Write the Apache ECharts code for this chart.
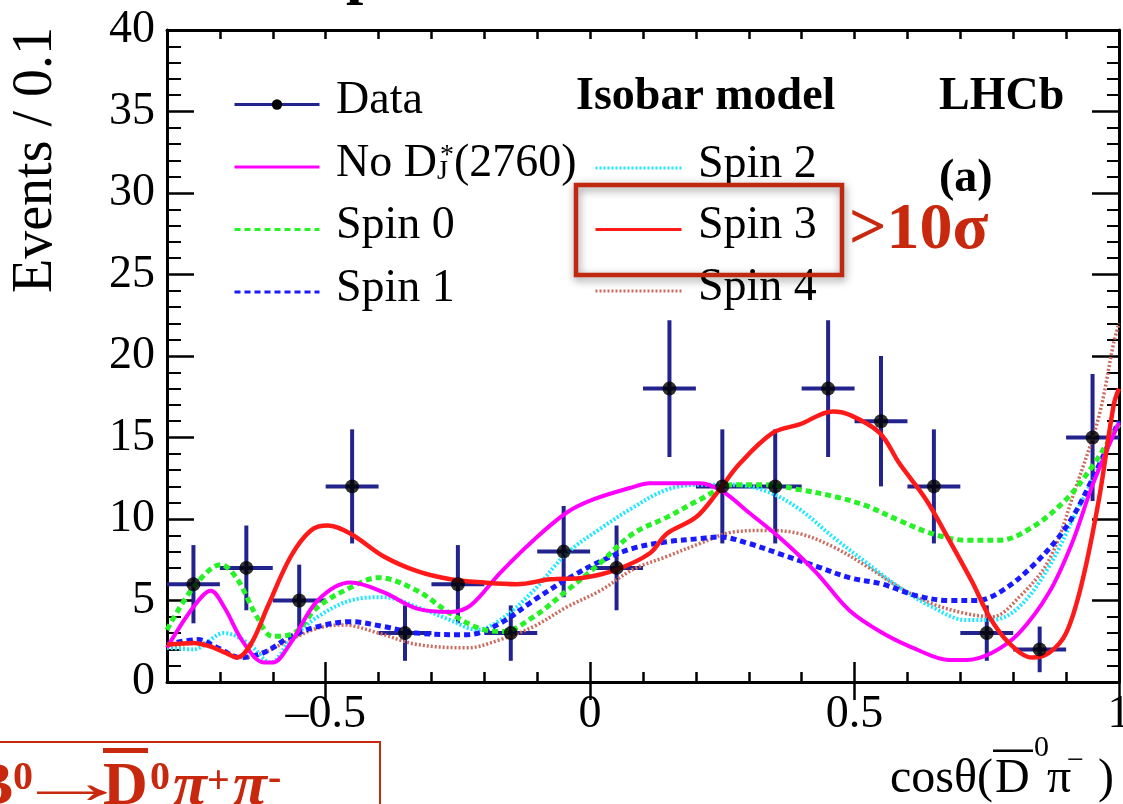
<!DOCTYPE html>
<html>
<head>
<meta charset="utf-8">
<title>cosθ(D̄⁰π⁻) – Isobar model</title>
<script src="https://cdn.jsdelivr.net/npm/echarts@6/dist/echarts.min.js"></script>
<style>
  html, body { margin: 0; padding: 0; background: #fff; }
  #chart { width: 1123px; height: 804px; }
</style>
</head>
<body>
<div id="chart"></div>
<script>
// data points: bin centres, events per bin and their errors
var binCenters = [-0.75, -0.65, -0.55, -0.45, -0.35, -0.25, -0.15, -0.05, 0.05, 0.15, 0.25, 0.35, 0.45, 0.55, 0.65, 0.75, 0.85, 0.95];
var events = [6, 7, 5, 12, 3, 6, 3, 8, 7, 18, 12, 12, 18, 16, 12, 3, 2, 15];
var errors = [2.4, 2.6, 2.2, 3.5, 1.7, 2.4, 1.7, 2.8, 2.6, 4.2, 3.5, 3.5, 4.2, 4.0, 3.5, 1.7, 1.4, 3.9];
var binWidth = 0.1;

// model curves, [cosθ, events]
var noDJ = [[-0.8, 2.1], [-0.75, 4.6], [-0.717, 5.6], [-0.692, 4.6], [-0.655, 2.4], [-0.617, 1.2], [-0.6, 1.2], [-0.566, 2.4],
  [-0.515, 5.0], [-0.453, 6.1], [-0.39, 5.5], [-0.327, 4.5], [-0.264, 4.3], [-0.226, 4.7], [-0.17, 6.7], [-0.107, 8.7],
  [-0.044, 10.4], [0.006, 11.2], [0.075, 11.9], [0.113, 12.2], [0.208, 12.2], [0.25, 11.7], [0.3, 10.4], [0.364, 8.7],
  [0.428, 6.7], [0.49, 4.4], [0.553, 3.0], [0.617, 2.0], [0.679, 1.35], [0.711, 1.35], [0.76, 1.8], [0.811, 3.0],
  [0.868, 5.5], [0.911, 8.5], [0.949, 12.0], [0.99, 15.2], [1.0, 15.9]];
var spin0 = [[-0.8, 3.2], [-0.75, 5.8], [-0.698, 7.2], [-0.667, 6.3], [-0.63, 4.0], [-0.6, 2.8], [-0.56, 3.0], [-0.515, 4.6],
  [-0.453, 5.8], [-0.4, 6.4], [-0.327, 5.6], [-0.264, 4.2], [-0.2, 3.2], [-0.164, 3.1], [-0.107, 4.0], [-0.044, 5.6],
  [0.019, 7.3], [0.081, 9.1], [0.145, 10.1], [0.208, 11.2], [0.27, 12.1], [0.334, 12.1], [0.396, 11.8], [0.459, 11.4],
  [0.523, 10.8], [0.585, 9.9], [0.647, 9.1], [0.711, 8.7], [0.774, 8.7], [0.836, 9.5], [0.9, 11.2], [0.949, 13.2],
  [0.99, 15.3], [1.0, 15.8]];
var spin1 = [[-0.8, 2.3], [-0.742, 2.6], [-0.704, 2.1], [-0.66, 1.5], [-0.617, 1.8], [-0.566, 2.8], [-0.515, 3.4], [-0.453, 3.7],
  [-0.39, 3.4], [-0.327, 3.0], [-0.232, 2.9], [-0.17, 3.6], [-0.107, 5.0], [-0.044, 6.3], [0.019, 7.4], [0.081, 8.2],
  [0.145, 8.6], [0.208, 8.8], [0.245, 8.9], [0.3, 8.5], [0.364, 7.8], [0.428, 7.1], [0.49, 6.4], [0.553, 6.0],
  [0.617, 5.3], [0.679, 5.0], [0.73, 5.0], [0.774, 5.5], [0.836, 7.1], [0.9, 9.5], [0.949, 12.4], [0.99, 15.3], [1.0, 16.0]];
var spin2 = [[-0.8, 2.1], [-0.75, 2.0], [-0.692, 3.0], [-0.647, 2.4], [-0.604, 1.2], [-0.566, 2.6], [-0.515, 4.0], [-0.453, 5.0],
  [-0.39, 5.2], [-0.327, 4.6], [-0.264, 3.8], [-0.214, 3.2], [-0.17, 3.8], [-0.107, 5.6], [-0.044, 7.9], [0.019, 9.4],
  [0.081, 10.7], [0.145, 11.8], [0.208, 12.1], [0.27, 12.1], [0.334, 11.7], [0.396, 10.6], [0.459, 8.9], [0.523, 7.3],
  [0.585, 5.8], [0.647, 4.6], [0.711, 3.8], [0.76, 3.8], [0.811, 4.6], [0.868, 7.1], [0.919, 10.4], [0.962, 13.2],
  [0.99, 15.3], [1.0, 16.0]];
var spin3 = [[-0.8, 2.3], [-0.75, 2.4], [-0.72, 2.2], [-0.69, 1.8], [-0.667, 1.5], [-0.64, 2.4], [-0.61, 4.6], [-0.566, 7.7],
  [-0.528, 9.3], [-0.496, 9.6], [-0.453, 9.1], [-0.39, 7.7], [-0.327, 6.8], [-0.264, 6.3], [-0.2, 6.1], [-0.138, 6.0],
  [-0.075, 6.3], [-0.013, 6.4], [0.05, 6.9], [0.113, 7.9], [0.145, 9.1], [0.2, 10.1], [0.24, 11.6], [0.283, 13.4],
  [0.346, 15.3], [0.396, 15.8], [0.459, 16.6], [0.49, 16.4], [0.547, 15.3], [0.585, 13.4], [0.635, 11.2], [0.679, 8.7],
  [0.723, 6.1], [0.755, 4.0], [0.792, 2.4], [0.836, 1.5], [0.868, 1.8], [0.9, 3.0], [0.93, 6.1], [0.962, 11.2],
  [0.99, 17.0], [1.0, 18.0]];
var spin4 = [[-0.8, 2.1], [-0.736, 2.4], [-0.692, 1.85], [-0.655, 1.5], [-0.617, 1.8], [-0.566, 2.6], [-0.515, 3.3], [-0.466, 3.5],
  [-0.4, 3.0], [-0.327, 2.3], [-0.232, 2.1], [-0.17, 2.6], [-0.107, 3.4], [-0.044, 4.6], [0.019, 5.6], [0.081, 6.9],
  [0.145, 7.7], [0.208, 8.5], [0.27, 9.2], [0.334, 9.3], [0.396, 9.1], [0.459, 8.3], [0.523, 7.1], [0.585, 5.8],
  [0.647, 4.8], [0.711, 4.2], [0.76, 4.0], [0.811, 5.2], [0.868, 7.5], [0.919, 12.0], [0.962, 16.3], [0.99, 20.8], [1.0, 22.0]];

// axis ticks
var xMajorTicks = [-0.5, 0, 0.5, 1];
var xLabelValues = [-0.5, 0, 0.5, 1];

var serif = 'Liberation Serif';
var navy = '#23238e';
var annot = '#c8280e';

var chart = echarts.init(document.getElementById('chart'), null, { renderer: 'canvas' });

var frameLine = { show: true, onZero: false, lineStyle: { color: '#000', width: 3 } };

function xAxisPart(position, len, custom, withLine, withLabels) {
  return {
    type: 'value', position: position, min: -0.8, max: 1, interval: 0.1,
    axisLine: withLine ? frameLine : { show: false },
    axisTick: { show: true, inside: true, length: len, customValues: custom, lineStyle: { color: '#000', width: 2.5 } },
    axisLabel: withLabels ? {
      show: true, customValues: xLabelValues, margin: 10, color: '#000', fontFamily: serif, fontSize: 46,
      formatter: function (v) { return v < 0 ? '\u2013' + Math.abs(v) : String(v); }
    } : { show: false },
    splitLine: { show: false }
  };
}

function yAxisPart(position, majorLen, minorLen, withLabels) {
  return {
    type: 'value', position: position, min: 0, max: 40, interval: 5,
    axisLine: frameLine,
    axisTick: { show: true, inside: true, length: majorLen, lineStyle: { color: '#000', width: 2.5 } },
    minorTick: { show: true, splitNumber: 5, length: minorLen, lineStyle: { color: '#000', width: 2 } },
    axisLabel: withLabels ? { show: true, margin: 12, color: '#000', fontFamily: serif, fontSize: 46 } : { show: false },
    splitLine: { show: false }, minorSplitLine: { show: false }
  };
}

function curve(name, data, color, width, dash, z) {
  return {
    type: 'line', name: name, data: data, smooth: 0.35, showSymbol: false, symbol: 'circle',
    clip: true, z: z || 3, silent: true,
    itemStyle: { color: color },
    lineStyle: { color: color, width: width, type: dash }
  };
}

var noDJName = 'No D*J(2760)';

var legendText = {
  color: '#000', fontFamily: serif, fontSize: 46, lineHeight: 44, padding: [0, 0, 7, 0],
  rich: {
    j: { fontFamily: serif, fontSize: 28, lineHeight: 14, verticalAlign: 'bottom', width: 3, color: '#000' },
    s: { fontFamily: serif, fontSize: 28, lineHeight: 4, verticalAlign: 'top', color: '#000' }
  }
};
function legendFormatter(name) {
  if (name === noDJName) return ' No D{j|J}{s|*}(2760)';
  return ' ' + name;
}
var hideSymbol = { opacity: 0 };

function txt(text, x, y, size, opts, extra) {
  return Object.assign({
    type: 'text', x: x, y: y, silent: true, z: 100,
    style: Object.assign({
      text: text, fontFamily: serif, fontSize: size, fill: '#000', align: 'left', verticalAlign: 'middle'
    }, opts || {})
  }, extra || {});
}

var option = {
  backgroundColor: '#fff',
  animation: false,
  grid: { left: 167, right: 4, top: 30, bottom: 122, containLabel: false, outerBoundsMode: 'none' },
  xAxis: [
    xAxisPart('bottom', 10, undefined, true, true),
    xAxisPart('bottom', 20, xMajorTicks, false, false),
    xAxisPart('top', 9, undefined, true, false),
    xAxisPart('top', 18, xMajorTicks, false, false)
  ],
  yAxis: [
    yAxisPart('left', 27, 14, true),
    yAxisPart('right', 27, 12, false)
  ],
  legend: [
    {
      left: 233, top: 78, orient: 'vertical', padding: 0, itemGap: 10.5, itemWidth: 85, itemHeight: 13,
      selectedMode: false, textStyle: legendText, formatter: legendFormatter, lineStyle: { width: 3 },
      data: [
        { name: 'Data' },
        { name: noDJName, itemStyle: hideSymbol },
        { name: 'Spin 0', itemStyle: hideSymbol },
        { name: 'Spin 1', itemStyle: hideSymbol }
      ]
    },
    {
      left: 594, top: 141.5, orient: 'vertical', padding: 0, itemGap: 9.5, itemWidth: 86, itemHeight: 13,
      selectedMode: false, textStyle: legendText, formatter: legendFormatter, lineStyle: { width: 3 },
      data: [
        { name: 'Spin 2', itemStyle: hideSymbol },
        { name: 'Spin 3', itemStyle: hideSymbol },
        { name: 'Spin 4', itemStyle: hideSymbol }
      ]
    }
  ],
  series: [
    // legend entry for the data markers
    { type: 'line', name: 'Data', data: [], symbol: 'circle', itemStyle: { color: '#000' }, lineStyle: { color: navy, width: 3 } },
    {
      type: 'custom', name: 'errors', z: 2, silent: true,
      data: binCenters.map(function (x, i) { return [x, events[i], errors[i]]; }),
      encode: { x: 0, y: 1 },
      renderItem: function (params, api) {
        var x = api.value(0), y = api.value(1), e = api.value(2);
        var l = api.coord([x - binWidth / 2, y]), r = api.coord([x + binWidth / 2, y]);
        var t = api.coord([x, y + e]), b = api.coord([x, y - e]);
        var st = { stroke: navy, lineWidth: 4 };
        return {
          type: 'group', children: [
            { type: 'line', shape: { x1: l[0], y1: l[1], x2: r[0], y2: r[1] }, style: st },
            { type: 'line', shape: { x1: t[0], y1: t[1], x2: b[0], y2: b[1] }, style: st }
          ]
        };
      }
    },
    curve('Spin 4', spin4, '#cc6a5e', 3.5, [2, 2]),
    curve('Spin 2', spin2, '#1ae8ff', 4, [2, 2]),
    curve('Spin 1', spin1, '#1a1aff', 5, [6, 4]),
    curve('Spin 0', spin0, '#26f226', 5, [6, 4]),
    curve(noDJName, noDJ, '#ff00ff', 4),
    curve('Spin 3', spin3, '#ff1a1a', 4.5, 'solid', 3.5),
    {
      type: 'scatter', name: 'points', z: 4, silent: true, symbol: 'circle', symbolSize: 14,
      itemStyle: { color: '#000' },
      data: binCenters.map(function (x, i) { return [x, events[i]]; })
    }
  ],
  graphic: [
    // remnant of the title above the frame
    txt('p', 346, -24.5, 62, { fontWeight: 'bold' }),
    // y-axis title
    { type: 'text', x: 36, y: 160, rotation: Math.PI / 2, silent: true,
      style: { text: 'Events / 0.1', fontFamily: serif, fontSize: 56, fill: '#000', align: 'center', verticalAlign: 'middle' } },
    txt('Isobar model', 576, 97.5, 46, { fontWeight: 'bold' }),
    txt('LHCb', 939, 97.5, 46, { fontWeight: 'bold' }),
    txt('(a)', 939, 179.5, 46, { fontWeight: 'bold' }),
    // highlight around the Spin 3 entry
    { type: 'rect', silent: true, z: 99, shape: { x: 576, y: 185, width: 266, height: 90 },
      style: { fill: 'none', stroke: '#c0290f', lineWidth: 4.5, shadowBlur: 8, shadowColor: 'rgba(0,0,0,0.45)', shadowOffsetX: 1, shadowOffsetY: 3 } },
    txt('>10σ', 849, 230.5, 66, { fontWeight: 'bold', fill: annot }),
    // x-axis title cosθ(D̄⁰π⁻)
    txt('cosθ(', 993, 779, 48, { align: 'right' }),
    txt('D', 995, 779, 48),
    { type: 'rect', silent: true, shape: { x: 993, y: 749.5, width: 40, height: 2.5 }, style: { fill: '#000' } },
    txt('0', 1034, 748, 30),
    txt('π', 1047, 779, 48),
    txt('\u2212', 1067, 761, 30),
    txt(')', 1114, 779, 48, { align: 'right' }),
    // decay label box, bottom left
    { type: 'rect', silent: true, shape: { x: -5, y: 742, width: 385, height: 100 },
      style: { fill: 'none', stroke: annot, lineWidth: 2 } },
    txt('B', 13, 788, 62, { fontWeight: 'bold', fill: annot, align: 'right' }),
    txt('0', 13, 778.5, 40, { fontWeight: 'bold', fill: annot }),
    txt('\u2192', 12.5, 787, 62, { fill: annot }, { scaleX: 1.9 }),
    txt('D', 103, 788, 62, { fontWeight: 'bold', fill: annot }),
    { type: 'rect', silent: true, shape: { x: 103, y: 748, width: 45, height: 5 }, style: { fill: annot } },
    txt('0', 150, 778.5, 40, { fontWeight: 'bold', fill: annot }),
    txt('π', 173, 788, 62, { fontWeight: 'bold', fontStyle: 'italic', fill: annot }),
    txt('+', 207, 783, 40, { fontWeight: 'bold', fill: annot }),
    txt('π', 233, 788, 62, { fontWeight: 'bold', fontStyle: 'italic', fill: annot }),
    txt('-', 268, 779.5, 40, { fontWeight: 'bold', fill: annot })
  ]
};

chart.setOption(option);
</script>
</body>
</html>
